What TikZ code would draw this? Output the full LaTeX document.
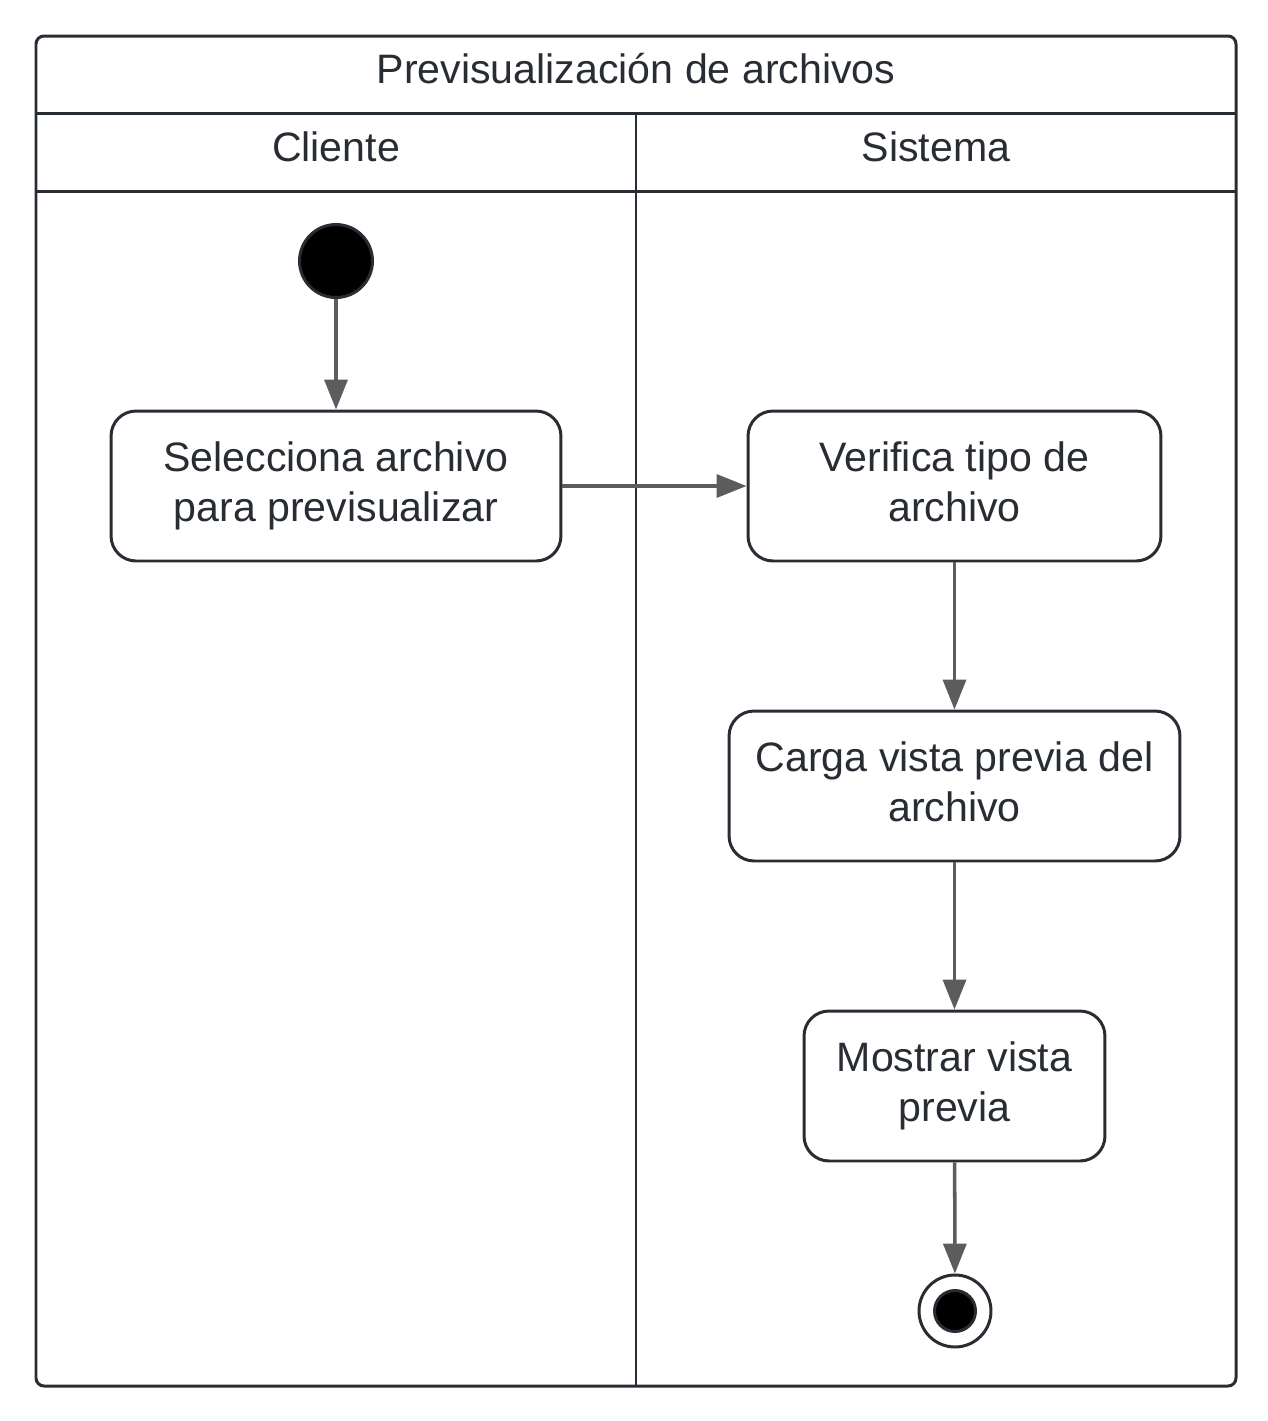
\documentclass[tikz,border=0pt]{standalone}
\usepackage{fontspec}
\setmainfont{Liberation Sans}
\usepackage{tikz}
\usetikzlibrary{positioning,arrows.meta}

\definecolor{edge}{HTML}{282C33}
\definecolor{flow}{HTML}{5C5C5C}

\begin{document}
\begin{tikzpicture}[
  x=0.02cm, y=-0.02cm, >=Triangle,
  font=\fontsize{23.4}{28.4}\selectfont, text=edge,
  lane/.style={draw=edge, line width=1.7pt},
  act/.style={draw=edge, line width=1.7pt, rounded corners=0.5cm, fill=white,
              align=center, minimum height=3cm, inner sep=0pt},
  start/.style={circle, draw=edge, line width=1.7pt, fill=black, minimum size=1.46cm, inner sep=0pt},
  stop/.style={circle, draw=edge, line width=1.7pt, fill=white, minimum size=1.44cm, inner sep=0pt},
  arr/.style={-{Triangle[length=0.6cm, width=0.46cm]}, line width=2pt, color=flow},
]
\useasboundingbox (0,0) rectangle (1268,1421);

% lanes
\draw[lane, rounded corners=0.16cm] (36,36) rectangle (1236,1386);
\draw[lane] (36,113) -- (1236,113);
\draw[lane] (36,191) -- (1236,191);
\draw[lane] (636,113) -- (636,1386);
\node (title)   at (636,69)  {Previsualización de archivos};
\node (cliente) at (336,147) {Cliente};
\node (sistema) at (936,147) {Sistema};

% actions
\node[start] (ini) at (336,261) {};
\node[act, minimum width=9cm]    (sel) at (336,486)   {Selecciona archivo\\para previsualizar};
\node[act, minimum width=8.26cm] (ver) at (954.5,486) {Verifica tipo de\\archivo\vphantom{p}};
\node[act, minimum width=9.02cm] (car) at (954.5,786) {Carga vista previa del\\archivo\vphantom{p}};
\node[act, minimum width=6.02cm] (mos) at (954.5,1086) {Mostrar vista\\previa};
\node[stop] (fin) at (955,1311) {};
\node[circle, fill=black, draw=edge, line width=1.7pt, minimum size=0.82cm, inner sep=0pt] (findot) at (fin) {};

\draw[arr] (ini) -- (sel.north);
\draw[arr] (sel.east) -- (ver.west);
\draw[arr] (ver) -- (car);
\draw[arr] (car) -- (mos);
\draw[arr] (mos) -- (fin);
\end{tikzpicture}
\end{document}
